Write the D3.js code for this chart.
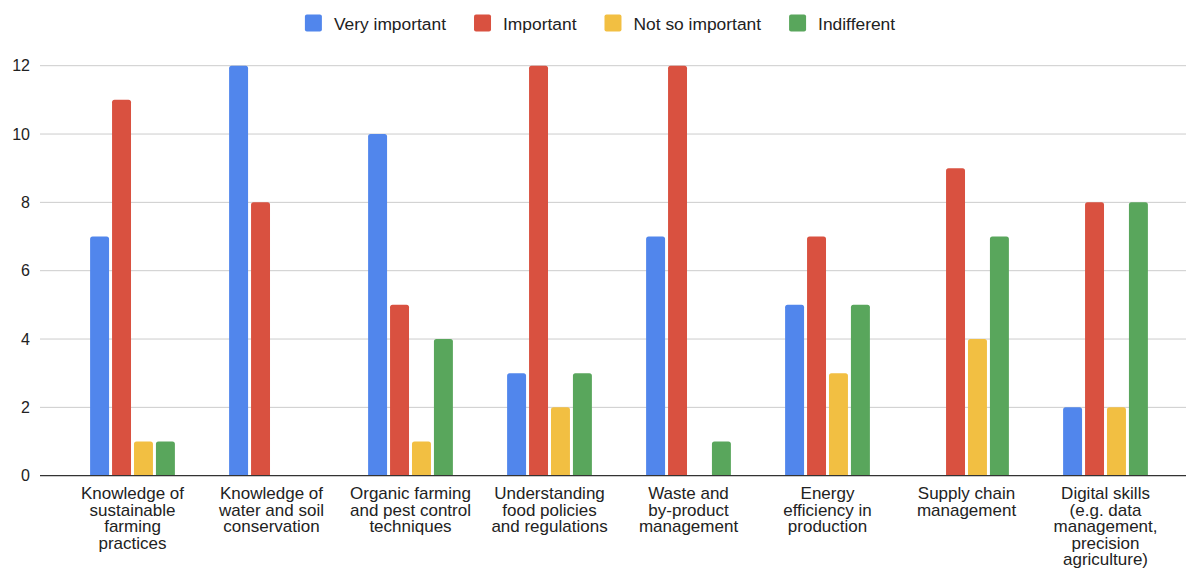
<!DOCTYPE html>
<html>
<head>
<meta charset="utf-8">
<script src="https://cdnjs.cloudflare.com/ajax/libs/d3/7.8.5/d3.min.js"></script>
<style>
  body { margin: 0; background: #fff; }
  text { font-family: "Liberation Sans", Arial, sans-serif; fill: #222; }
</style>
</head>
<body>
<script>
// categories (label lines as wrapped in the chart)
var categories = [
  ["Knowledge of", "sustainable", "farming", "practices"],
  ["Knowledge of", "water and soil", "conservation"],
  ["Organic farming", "and pest control", "techniques"],
  ["Understanding", "food policies", "and regulations"],
  ["Waste and", "by-product", "management"],
  ["Energy", "efficiency in", "production"],
  ["Supply chain", "management"],
  ["Digital skills", "(e.g. data", "management,", "precision", "agriculture)"]
];
var seriesNames = ["Very important", "Important", "Not so important", "Indifferent"];
var veryImportant  = [7, 12, 10, 3, 7, 5, 0, 2];
var important      = [11, 8, 5, 12, 12, 7, 9, 8];
var notSoImportant = [1, 0, 1, 2, 0, 3, 4, 2];
var indifferent    = [1, 0, 4, 3, 1, 5, 7, 8];
var yTicks = [0, 2, 4, 6, 8, 10, 12];

var colors = ["#5186ec", "#d95140", "#f2bf42", "#59a65c"];
var seriesValues = [veryImportant, important, notSoImportant, indifferent];

var W = 1186, H = 571;
var svg = d3.select("body").append("svg")
    .attr("width", W)
    .attr("height", H);

// scales
var x0 = d3.scaleBand()
    .domain(d3.range(categories.length))
    .range([63, 63 + 8 * 139])
    .paddingInner(0.39)
    .paddingOuter(0.195);

var x1 = d3.scaleBand()
    .domain(seriesNames)
    .range([0, x0.bandwidth()])
    .paddingInner(0.136);

var y = d3.scaleLinear().domain([0, 12]).range([475.7, 65.7]);

// gridlines
svg.append("g")
  .selectAll("line")
  .data(yTicks.filter(function(d) { return d > 0; }))
  .enter().append("line")
    .attr("x1", 40).attr("x2", W)
    .attr("y1", function(d) { return y(d); })
    .attr("y2", function(d) { return y(d); })
    .attr("stroke", "#cccccc")
    .attr("stroke-width", 1);

// y axis labels
var yAxis = d3.axisLeft(y).tickValues(yTicks).tickSize(0).tickPadding(0);
var gy = svg.append("g")
    .attr("transform", "translate(30,0)")
    .call(yAxis);
gy.select(".domain").remove();
gy.selectAll("text")
    .style("font-size", "16px")
    .style("font-family", "'Liberation Sans', Arial, sans-serif")
    .attr("fill", "#222");

// bars with rounded top corners
function barPath(x, w, yTop, yBot) {
  var r = Math.min(2.5, (yBot - yTop) / 2);
  return "M" + x + "," + yBot +
    "V" + (yTop + r) +
    "Q" + x + "," + yTop + " " + (x + r) + "," + yTop +
    "H" + (x + w - r) +
    "Q" + (x + w) + "," + yTop + " " + (x + w) + "," + (yTop + r) +
    "V" + yBot + "Z";
}

var groups = svg.append("g")
  .selectAll("g")
  .data(categories)
  .enter().append("g")
    .attr("transform", function(d, i) { return "translate(" + x0(i) + ",0)"; });

groups.selectAll("path")
  .data(function(d, i) {
    return seriesNames.map(function(s, k) {
      return { key: s, value: seriesValues[k][i], color: colors[k] };
    });
  })
  .enter().append("path")
    .filter(function(d) { return d.value > 0; })
    .attr("fill", function(d) { return d.color; })
    .attr("d", function(d) {
      return barPath(x1(d.key), x1.bandwidth(), y(d.value), y(0));
    });

// baseline
svg.append("line")
    .attr("x1", 40).attr("x2", W)
    .attr("y1", y(0)).attr("y2", y(0))
    .attr("stroke", "#333")
    .attr("stroke-width", 1.3);

// category labels
var labels = svg.append("g")
  .selectAll("text")
  .data(categories)
  .enter().append("text")
    .attr("text-anchor", "middle")
    .style("font-size", "17px")
    .attr("transform", function(d, i) {
      return "translate(" + (x0(i) + x0.bandwidth() / 2) + ",499)";
    });

labels.selectAll("tspan")
  .data(function(d) { return d; })
  .enter().append("tspan")
    .attr("x", 0)
    .attr("y", function(d, j) { return j * 16.6; })
    .text(function(d) { return d; });

// legend
var legend = svg.append("g");
var items = legend.selectAll("g")
  .data(seriesNames)
  .enter().append("g");

items.append("rect")
    .attr("width", 17).attr("height", 17)
    .attr("y", 14.5)
    .attr("rx", 2)
    .attr("fill", function(d, i) { return colors[i]; });

items.append("text")
    .attr("x", 29)
    .attr("y", 30)
    .style("font-size", "17.4px")
    .text(function(d) { return d; });

var xpos = 0;
items.each(function() {
  var g = d3.select(this);
  var tw = g.select("text").node().getComputedTextLength();
  g.attr("transform", "translate(" + xpos + ",0)");
  xpos += 29 + tw + 28;
});
var total = xpos - 28;
legend.attr("transform", "translate(" + (600 - total / 2) + ",0)");
</script>
</body>
</html>
